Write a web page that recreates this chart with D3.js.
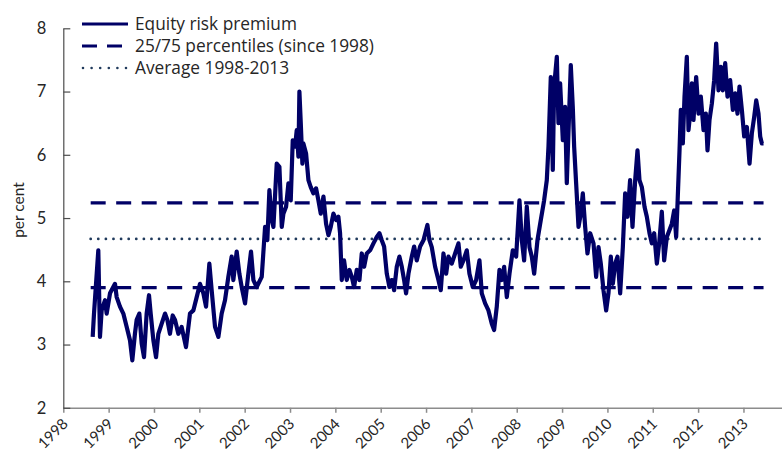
<!DOCTYPE html>
<html>
<head>
<meta charset="utf-8">
<script src="https://d3js.org/d3.v7.min.js"></script>
<style>
    body { margin: 0; background: #fff; }
    text { font-family: Lato, "Open Sans", sans-serif; fill: #262626; }
    .legend-item text { font-family: "Open Sans", Lato, sans-serif; }
</style>
</head>
<body>
<div id="erp-chart"></div>
<script>

/*
 *  Data
 */

var years = [
    1998.648, 1998.677, 1998.772, 1998.809, 1998.846, 1998.92, 1998.956, 1999.03, 1999.14, 1999.177,
    1999.25, 1999.324, 1999.397, 1999.47, 1999.522, 1999.58, 1999.618, 1999.677, 1999.728, 1999.78,
    1999.838, 1999.89, 1999.927, 1999.986, 2000.045, 2000.096, 2000.17, 2000.243, 2000.295, 2000.353,
    2000.412, 2000.464, 2000.537, 2000.61, 2000.706, 2000.794, 2000.868, 2000.942, 2001.015, 2001.089,
    2001.148, 2001.221, 2001.272, 2001.346, 2001.42, 2001.493, 2001.566, 2001.64, 2001.713, 2001.75,
    2001.824, 2001.883, 2001.934, 2002.008, 2002.081, 2002.14, 2002.192, 2002.265,
    2002.376, 2002.45, 2002.50, 2002.545, 2002.597, 2002.634, 2002.707, 2002.766, 2002.818, 2002.854,
    2002.913, 2002.965, 2003.016, 2003.06, 2003.112, 2003.148, 2003.185, 2003.207, 2003.237, 2003.273,
    2003.295, 2003.354, 2003.406, 2003.457, 2003.516, 2003.575, 2003.626, 2003.678, 2003.737, 2003.795,
    2003.847, 2003.898, 2003.957, 2004.016, 2004.067, 2004.104, 2004.141, 2004.192, 2004.251, 2004.31,
    2004.362, 2004.413, 2004.472, 2004.531, 2004.582, 2004.634, 2004.692, 2004.766, 2004.84, 2004.913,
    2004.972, 2005.023, 2005.075, 2005.134, 2005.193, 2005.244, 2005.296, 2005.354, 2005.413, 2005.465,
    2005.516, 2005.56, 2005.612, 2005.685, 2005.737, 2005.795, 2005.869, 2005.943,
    2006.03, 2006.075, 2006.126, 2006.2, 2006.273, 2006.325, 2006.384, 2006.443, 2006.494, 2006.567,
    2006.641, 2006.715, 2006.766, 2006.825, 2006.898, 2006.957, 2007.031, 2007.104, 2007.178, 2007.229,
    2007.303, 2007.376, 2007.45, 2007.501, 2007.56, 2007.619, 2007.67, 2007.722, 2007.781, 2007.84,
    2007.913, 2007.987, 2008.06, 2008.112, 2008.163, 2008.222, 2008.281, 2008.332, 2008.384, 2008.457,
    2008.531, 2008.604, 2008.663, 2008.7, 2008.751, 2008.795, 2008.825, 2008.884, 2008.92, 2008.957,
    2009.016, 2009.066, 2009.104, 2009.14, 2009.192, 2009.236, 2009.266, 2009.31, 2009.362, 2009.413,
    2009.457, 2009.509, 2009.56,
    2009.619, 2009.693, 2009.751, 2009.803, 2009.854, 2009.913, 2009.972, 2010.023, 2010.075, 2010.119,
    2010.171, 2010.222, 2010.281, 2010.34, 2010.391, 2010.443, 2010.5, 2010.553, 2010.612, 2010.663,
    2010.707, 2010.759, 2010.818, 2010.869, 2010.928, 2010.979, 2011.031, 2011.09, 2011.141, 2011.2,
    2011.251, 2011.31, 2011.369, 2011.42, 2011.472, 2011.516, 2011.546, 2011.59, 2011.619, 2011.663,
    2011.7, 2011.751, 2011.788, 2011.825, 2011.862, 2011.898, 2011.957, 2012.009, 2012.06, 2012.119,
    2012.17, 2012.207, 2012.251, 2012.303, 2012.354, 2012.398, 2012.45, 2012.501, 2012.545, 2012.597,
    2012.648, 2012.707, 2012.766, 2012.817, 2012.869, 2012.913, 2012.965, 2013.016, 2013.075, 2013.134,
    2013.185, 2013.237, 2013.281, 2013.332, 2013.369, 2013.406, 2013.443
];

var premium = [
    3.12, 3.49, 4.49, 3.12, 3.54, 3.70, 3.49, 3.81, 3.96, 3.75,
    3.60, 3.49, 3.28, 3.07, 2.75, 3.17, 3.39, 3.49, 3.02, 2.80,
    3.49, 3.78, 3.49, 3.07, 2.80, 3.17, 3.33, 3.49, 3.39, 3.17,
    3.46, 3.39, 3.17, 3.28, 2.96, 3.49, 3.54, 3.75, 3.96, 3.81,
    3.60, 4.28, 3.86, 3.28, 3.12, 3.49, 3.70, 4.07, 4.39, 4.02,
    4.47, 4.12, 3.91, 3.65, 4.12, 4.47, 4.02, 3.91,
    4.07, 4.86, 4.65, 5.44, 4.97, 4.86, 5.86, 5.81, 4.86, 5.07,
    5.18, 5.55, 5.28, 6.23, 6.13, 6.39, 5.97, 7.00, 6.50, 5.86,
    6.18, 6.02, 5.60, 5.49, 5.39, 5.47, 5.28, 5.07, 5.34, 4.91,
    4.73, 4.86, 5.07, 4.97, 5.02, 4.76, 4.02, 4.33, 4.02, 4.18,
    4.07, 3.91, 4.18, 4.02, 4.44, 4.23, 4.44, 4.49, 4.60, 4.70,
    4.76, 4.65, 4.55, 4.12, 3.91, 4.02, 3.86, 4.23, 4.39, 4.23,
    4.02, 3.81, 4.12, 4.39, 4.55, 4.33, 4.55, 4.65,
    4.89, 4.65, 4.54, 4.23, 4.02, 3.86, 4.44, 4.12, 4.39, 4.28,
    4.44, 4.60, 4.23, 4.33, 4.49, 4.12, 3.91, 4.02, 4.33, 3.81,
    3.65, 3.54, 3.33, 3.23, 3.60, 4.18, 4.02, 4.23, 3.75, 4.12,
    4.49, 4.39, 5.28, 4.65, 4.33, 5.18, 4.54, 4.39, 4.12, 4.65,
    4.97, 5.28, 5.60, 6.13, 7.23, 5.76, 7.08, 7.55, 6.50, 7.13,
    6.23, 6.76, 5.55, 6.34, 7.42, 6.76, 6.13, 5.55, 4.86, 5.07,
    5.39, 4.86, 4.44,
    4.76, 4.60, 4.07, 4.54, 4.28, 3.86, 3.54, 3.81, 4.39, 3.96,
    4.28, 4.39, 3.81, 4.54, 5.39, 5.02, 5.60, 4.86, 5.60, 6.07,
    5.60, 5.49, 5.18, 5.02, 4.76, 4.60, 4.76, 4.28, 4.60, 5.10,
    4.33, 4.70, 4.81, 4.91, 5.12, 4.70, 5.23, 6.07, 6.71, 6.18,
    6.92, 7.55, 6.39, 6.65, 7.13, 6.55, 7.23, 6.65, 6.92, 6.39,
    6.65, 6.07, 6.55, 6.81, 7.18, 7.76, 7.02, 7.39, 7.02, 7.45,
    6.92, 7.18, 6.71, 6.97, 6.65, 7.08, 6.71, 6.29, 6.44, 5.86,
    6.34, 6.60, 6.86, 6.65, 6.29, 6.18, 6.18
];

// horizontal reference levels
var refNames = ["p25", "p75", "average"];
var refValues = [3.90, 5.24, 4.67];

var yTicks = [2, 3, 4, 5, 6, 7, 8];
var xTicks = [1998, 1999, 2000, 2001, 2002, 2003, 2004, 2005, 2006, 2007, 2008, 2009, 2010, 2011, 2012, 2013];

var legendLabels = ["Equity risk premium", "25/75 percentiles (since 1998)", "Average 1998-2013"];


/*
 *  Chart setup
 */

var width = 782, height = 462;
var navy = "#000066";
var slate = "#203a5c";

var svg = d3.select("#erp-chart").append("svg")
    .attr("width", width)
    .attr("height", height);

var x = d3.scaleLinear()
    .domain([1998, 2013.85])
    .range([63.3, 782]);

var y = d3.scaleLinear()
    .domain([2, 8])
    .range([407.8, 28.3]);

var series = years.map(function(d, i) {
    return { year: d, value: premium[i] };
});


// Axes
var xAxis = d3.axisBottom(x)
    .tickValues(xTicks)
    .tickSize(5)
    .tickSizeOuter(0)
    .tickFormat(d3.format("d"));

var yAxis = d3.axisLeft(y)
    .tickValues(yTicks)
    .tickSize(-7)
    .tickSizeOuter(0)
    .tickFormat(d3.format("d"));

var gx = svg.append("g")
    .attr("class", "x-axis axis")
    .attr("transform", "translate(0," + y(2) + ")")
    .call(xAxis);

gx.select(".domain").attr("stroke", "#8c8c8c").attr("stroke-width", 1.5);
gx.selectAll(".tick line").attr("stroke", "#8c8c8c").attr("stroke-width", 1.5);
gx.selectAll(".tick text")
    .attr("font-size", 15)
    .attr("text-anchor", "end")
    .attr("dy", null)
    .attr("y", null)
    .attr("transform", "translate(5,17) rotate(-45)");

var gy = svg.append("g")
    .attr("class", "y-axis axis")
    .attr("transform", "translate(" + x(1998) + ",0)")
    .call(yAxis);

gy.select(".domain").attr("stroke", "#4d4d4d").attr("stroke-width", 1.2);
gy.selectAll(".tick line").attr("stroke", "#4d4d4d").attr("stroke-width", 1.2);
gy.selectAll(".tick text")
    .attr("font-size", 16.5)
    .attr("x", -17);

svg.append("text")
    .attr("transform", "translate(24,210) rotate(-90)")
    .attr("text-anchor", "middle")
    .attr("font-size", 15.5)
    .text("per cent");


// Reference lines across the sample
var x0 = d3.min(years), x1 = d3.max(years);

svg.selectAll(".ref-line")
    .data(refNames)
    .enter().append("line")
    .attr("class", "ref-line")
    .attr("x1", x(x0) - 2)
    .attr("x2", x(x1))
    .attr("y1", function(d, i) { return y(refValues[i]); })
    .attr("y2", function(d, i) { return y(refValues[i]); })
    .attr("stroke", function(d) { return d === "average" ? slate : navy; })
    .attr("stroke-width", function(d) { return d === "average" ? 2.8 : 3.2; })
    .attr("stroke-linecap", function(d) { return d === "average" ? "round" : "butt"; })
    .attr("stroke-dasharray", function(d) { return d === "average" ? "0,7.6" : "15,10.5"; });


// Equity risk premium line
var line = d3.line()
    .x(function(d) { return x(d.year); })
    .y(function(d) { return y(d.value); });

svg.append("path")
    .datum(series)
    .attr("class", "erp-path")
    .attr("d", line)
    .attr("fill", "none")
    .attr("stroke", navy)
    .attr("stroke-width", 4.2)
    .attr("stroke-linejoin", "round");


/*
 *  Legend
 */

var legend = svg.selectAll(".legend-item")
    .data(legendLabels)
    .enter().append("g")
    .attr("class", "legend-item")
    .attr("transform", function(d, i) { return "translate(82," + (24 + i * 22) + ")"; });

legend.append("line")
    .attr("x1", function(d, i) { return i === 2 ? 1 : 0; })
    .attr("x2", 46)
    .attr("stroke", function(d, i) { return i === 2 ? slate : navy; })
    .attr("stroke-width", function(d, i) { return i === 2 ? 2.6 : 3.2; })
    .attr("stroke-linecap", function(d, i) { return i === 2 ? "round" : "butt"; })
    .attr("stroke-dasharray", function(d, i) {
        if (i === 1) return "15,10";
        if (i === 2) return "0,8.6";
        return null;
    });

legend.append("text")
    .attr("x", 53)
    .attr("dy", "0.35em")
    .attr("font-size", 17.3)
    .text(function(d) { return d; });

</script>
</body>
</html>
